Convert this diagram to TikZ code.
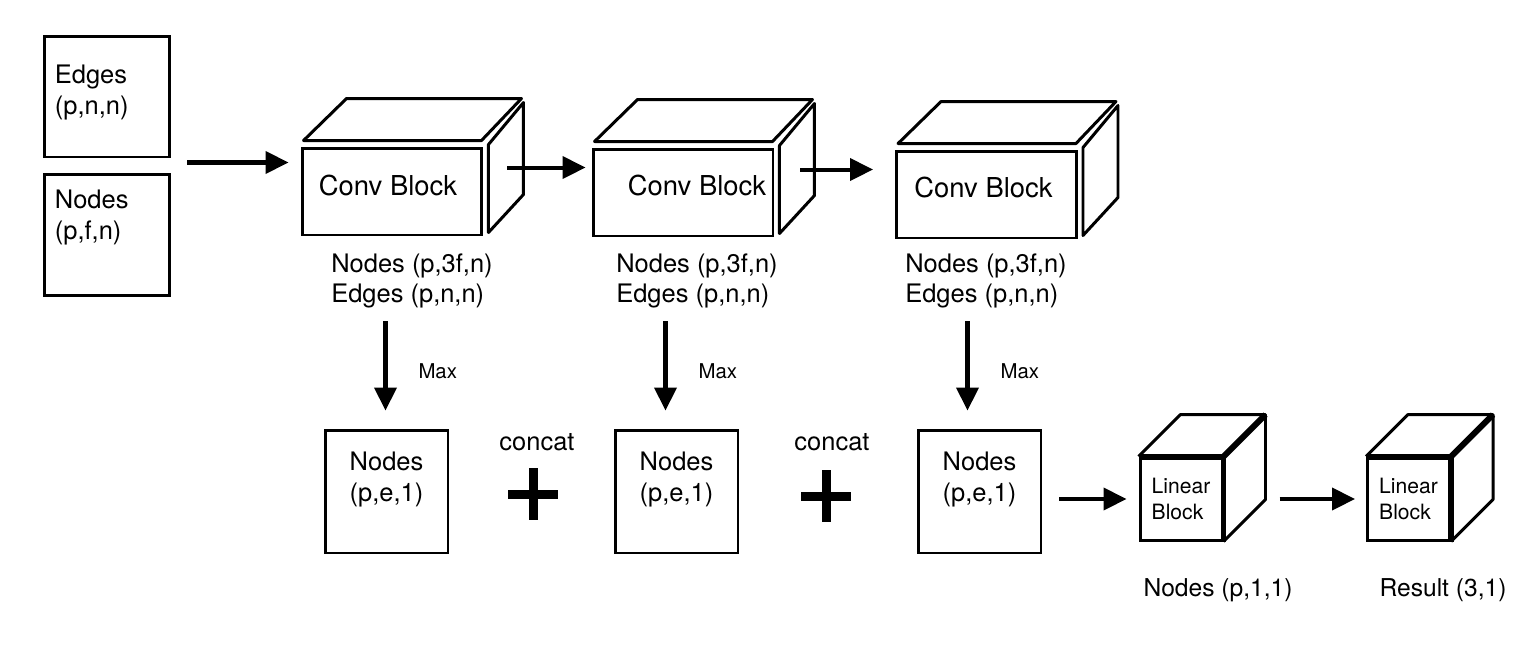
\documentclass[tikz,border=0pt]{standalone}
\usepackage{fontspec}
\setmainfont{TeX Gyre Heros}
\usepackage{tikz}
\usetikzlibrary{arrows.meta,calc}
\tikzset{
  inbox/.style={draw, line width=1.7pt, minimum width=2.52cm, minimum height=2.42cm},
  outbox/.style={draw, line width=1.7pt, minimum width=2.46cm, minimum height=2.46cm},
  convface/.style={draw, line width=1.7pt, minimum width=3.6cm, minimum height=1.74cm},
  linface/.style={draw, line width=1.7pt, minimum size=1.64cm, inner sep=0pt, align=left,
                  font=\fontsize{12}{14.8}\selectfont},
  cubeedge/.style={line width=1.7pt, line join=round},
  cubethick/.style={line width=3.4pt, line join=round},
  boxtxt/.style={inner sep=0pt, align=left, font=\fontsize{14.5}{17.6}\selectfont},
  convtxt/.style={inner sep=0pt, font=\fontsize{15.6}{18}\selectfont},
  dimnote/.style={inner sep=0pt, align=left, font=\fontsize{14.5}{17}\selectfont},
  smallnote/.style={inner sep=0pt, font=\fontsize{11.6}{13}\selectfont},
  flowarrow/.style={-{Triangle[length=0.46cm,width=0.44cm]}, line width=2.3pt},
  plusbar/.style={line width=0.18cm}
}

\begin{document}
\begin{tikzpicture}[x=0.02cm, y=-0.02cm]
\useasboundingbox (0,0) rectangle (1520,664);

\node[inbox] (edg) at (107,96.5) {};
\node[inbox] (nod) at (107,235) {};
\node[boxtxt, anchor=north west] (edgtxt) at ($(edg.north west)+(12,30)$) {Edges\\(p,n,n)};
\node[boxtxt, anchor=north west] (nodtxt) at ($(nod.north west)+(12,17)$) {Nodes\\(p,f,n)};

\node[convface] (cb1) at (392,191.5) {};
\node[convface] (cb2) at (683,192.5) {};
\node[convface] (cb3) at (986.5,194.5) {};
\foreach \c in {cb1,cb2,cb3}{
  \draw[cubeedge] ($(\c.north west)+(3,-6)$) -- ($(\c.north east)+(-2,-6)$)
    -- ($(\c.north east)+(38,-48)$) -- ($(\c.north west)+(46,-48)$) -- cycle;
  \draw[cubeedge] ($(\c.north east)+(5,-2)$) -- ($(\c.north east)+(40,-44)$)
    -- ($(\c.south east)+(40,-42)$) -- ($(\c.south east)+(5,-4)$) -- cycle;
}
\node[convtxt] (ct1) at ($(cb1.center)+(-4,-6)$) {Conv Block};
\node[convtxt] (ct2) at ($(cb2.center)+(14,-7)$) {Conv Block};
\node[convtxt] (ct3) at ($(cb3.center)+(-3,-7)$) {Conv Block};

\node[dimnote] (dl1) at (412,281) {Nodes (p,3f,n)\\Edges (p,n,n)};
\node[dimnote] (dl2) at (697,281) {Nodes (p,3f,n)\\Edges (p,n,n)};
\node[dimnote] (dl3) at (986,281) {Nodes (p,3f,n)\\Edges (p,n,n)};

\node[outbox] (nb1) at (386.5,491.5) {};
\node[outbox] (nb2) at (676.5,491.5) {};
\node[outbox] (nb3) at (979.5,491.5) {};
\foreach \b in {nb1,nb2,nb3}
  \node[boxtxt, align=center, anchor=north] (\b txt) at ($(\b.north)+(0,23)$) {Nodes\\(p,e,1)};

\node[linface] (lb1) at (1181,499) {Linear\\Block};
\node[linface] (lb2) at (1408.5,499) {Linear\\Block};
\foreach \c in {lb1,lb2}{
  \draw[cubeedge] (\c.north west) -- ++(42,-42) -- ($(\c.north east)+(42,-42)$)
    -- ($(\c.south east)+(42,-42)$) -- (\c.south east);
  \draw[cubethick] (\c.north west) -- (\c.north east) -- (\c.south east);
  \draw[cubethick] (\c.north east) -- ++(42,-42);
}

\node[dimnote, font=\fontsize{14}{17}\selectfont] (res1) at (1218,590) {Nodes (p,1,1)};
\node[dimnote, font=\fontsize{14}{17}\selectfont] (res2) at (1443,590) {Result (3,1)};

\node[dimnote] (cc1) at (537,442) {concat};
\node[dimnote] (cc2) at (832,442) {concat};
\coordinate (pl1) at (533,494);
\coordinate (pl2) at (826,496);
\foreach \p in {pl1,pl2}{
  \draw[plusbar] ($(\p)+(-25,0)$) -- ($(\p)+(25,0)$);
  \draw[plusbar] ($(\p)+(0,-26)$) -- ($(\p)+(0,26)$);
}

\coordinate (a1) at ($(edg.south east)+(16,4)$);
\coordinate (a2) at ($(cb1.north east)+(24,21)$);
\coordinate (a3) at ($(cb2.north east)+(26,22)$);
\draw[flowarrow] (a1) -- ($(a1 -| cb1.west)+(-12,0)$);
\draw[flowarrow] (a2) -- ($(a2 -| cb2.west)+(-6,0)$);
\draw[flowarrow] (a3) -- ($(a3 -| cb3.west)+(-22,0)$);

\draw[flowarrow] ($(dl1.south -| nb1.north)+(-1,13)$) -- ($(nb1.north)+(-1,-18)$)
  node[smallnote, midway, anchor=west, xshift=0.62cm, yshift=-0.1cm] {Max};
\draw[flowarrow] ($(dl2.south -| nb2.north)+(-11,13)$) -- ($(nb2.north)+(-11,-18)$)
  node[smallnote, midway, anchor=west, xshift=0.62cm, yshift=-0.1cm] {Max};
\draw[flowarrow] ($(dl3.south -| nb3.north)+(-12,13)$) -- ($(nb3.north)+(-12,-18)$)
  node[smallnote, midway, anchor=west, xshift=0.62cm, yshift=-0.1cm] {Max};

\draw[flowarrow] ($(nb3.east |- lb1.west)+(17,0)$) -- ($(lb1.west)+(-12,0)$);
\draw[flowarrow] ($(lb1.east)+(56,0)$) -- ($(lb2.west)+(-11,0)$);
\end{tikzpicture}
\end{document}
